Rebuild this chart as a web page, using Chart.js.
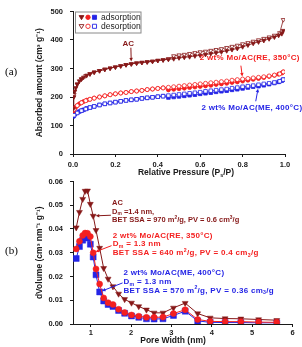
<!DOCTYPE html>
<html>
<head>
<meta charset="utf-8">
<script src="https://cdn.jsdelivr.net/npm/chart.js@4.4.1/dist/chart.umd.min.js"></script>
<style>
body { margin: 0; background: #fff; width: 302px; height: 347px; overflow: hidden; position: relative; }
.box { position: absolute; left: 0; width: 302px; }
#boxA { top: 0; height: 178px; }
#boxB { top: 170px; height: 177px; }
.tag { position: absolute; left: 5px; font-family: "Liberation Serif", "Times New Roman", serif; font-size: 11px; font-weight: normal; color: #000; z-index: 2; }
</style>
</head>
<body>
<div id="boxA" class="box"><canvas id="isoChart"></canvas></div>
<div id="boxB" class="box"><canvas id="poreChart"></canvas></div>
<div class="tag" style="top:65px">(a)</div>
<div class="tag" style="top:244px">(b)</div>
<script>
// (a) N2 isotherms, relative pressure
const pAds = [0.001, 0.004, 0.008, 0.013, 0.02, 0.03, 0.04, 0.05, 0.065, 0.08, 0.1, 0.125, 0.15, 0.175, 0.2, 0.225,
    0.25, 0.275, 0.3, 0.325, 0.35, 0.375, 0.4, 0.425, 0.45, 0.475, 0.5, 0.525, 0.55, 0.575, 0.6, 0.625, 0.65, 0.675,
    0.7, 0.725, 0.75, 0.775, 0.8, 0.825, 0.85, 0.875, 0.9, 0.925, 0.95, 0.97, 0.985, 0.992];
const pDes = [0.992, 0.975, 0.95, 0.925, 0.9, 0.875, 0.85, 0.825, 0.8, 0.775, 0.75, 0.725, 0.7, 0.675, 0.65, 0.625,
    0.6, 0.575, 0.55, 0.525, 0.5, 0.475, 0.45, 0.425, 0.4, 0.375, 0.35, 0.325, 0.3, 0.275, 0.25, 0.225, 0.2, 0.175,
    0.15, 0.125, 0.1, 0.08, 0.06, 0.04, 0.02, 0.005];

const acAds = [158, 200, 220, 232, 245, 256, 263, 269, 276, 281, 287, 292, 297, 301, 305, 309, 313, 316, 319, 321,
    323, 325, 328, 330, 332, 334, 337, 339, 341, 344, 346, 349, 352, 355, 358, 362, 366, 370, 376, 382, 388, 393,
    398, 404, 410, 416, 422, 433];
const acDes = [471, 425, 416, 410, 405, 400, 395, 390, 386, 381, 377, 373, 369, 366, 363, 360, 358, 355, 352, 349,
    347, 344, 334, 330, 328, 325, 323, 321, 319, 316, 313, 309, 305, 301, 297, 292, 287, 281, 274, 263, 245, 208];
const reAds = [148, 154, 160, 165, 170, 176, 180, 184, 189, 192, 196, 200, 204, 208, 211, 214, 216, 219, 221, 223,
    226, 228, 230, 232, 225, 227, 229, 231, 233, 235, 237, 239, 241, 244, 246, 248, 251, 253, 256, 259, 262, 265,
    268, 272, 276, 280, 284, 288];
const reDes = [288, 281, 277, 274, 271, 269, 267, 265, 263, 261, 259, 256, 254, 252, 250, 248, 246, 244, 242, 240,
    238, 236, 234, 232, 230, 228, 226, 223, 221, 219, 216, 214, 211, 208, 204, 200, 196, 192, 187, 180, 170, 156];
const meAds = [132, 135, 140, 143, 145, 149, 152, 155, 160, 163, 167, 172, 176, 179, 182, 185, 188, 190, 192, 195,
    197, 199, 201, 203, 198, 200, 202, 204, 206, 208, 211, 213, 215, 218, 220, 222, 225, 227, 230, 233, 236, 238,
    241, 245, 249, 253, 257, 261];
const meDes = [261, 255, 251, 248, 246, 243, 240, 238, 236, 233, 231, 228, 226, 224, 222, 220, 217, 215, 213, 211,
    209, 207, 205, 203, 201, 199, 197, 195, 192, 190, 188, 185, 182, 179, 176, 172, 167, 163, 158, 152, 144, 136];

const isoTicksX = [0, 0.2, 0.4, 0.6, 0.8, 1.0];
const isoTicksY = [0, 100, 200, 300, 400, 500];

// (b) pore size distribution
const poreWidth = [0.64, 0.72, 0.80, 0.86, 0.92, 0.99, 1.06, 1.13, 1.22, 1.32, 1.43, 1.55, 1.69, 1.84, 2.01, 2.19,
    2.38, 2.57, 2.79, 3.05, 3.34, 3.65, 3.96, 4.33, 4.72, 5.16, 5.61];
const acPsd = [0.0406, 0.0471, 0.0526, 0.0560, 0.0561, 0.0505, 0.0455, 0.0395, 0.0320, 0.0235, 0.0190, 0.0158,
    0.0127, 0.0104, 0.0089, 0.0074, 0.0060, 0.0047, 0.0047, 0.0068, 0.0088, 0.0044, 0.0026, 0.0023, 0.0022, 0.0019, 0.0016];
const rePsd = [0.0316, 0.0348, 0.0373, 0.0383, 0.0382, 0.0368, 0.0300, 0.0232, 0.0168, 0.0110, 0.0090, 0.0082,
    0.0062, 0.0048, 0.0038, 0.0033, 0.0028, 0.0028, 0.0029, 0.0044, 0.0060, 0.0019, 0.0011, 0.0010, 0.0010, 0.0008, 0.0007];
const mePsd = [0.0276, 0.0326, 0.0353, 0.0366, 0.0362, 0.0336, 0.0282, 0.0207, 0.0135, 0.0097, 0.0082, 0.0074,
    0.0057, 0.0045, 0.0034, 0.0028, 0.0022, 0.0021, 0.0022, 0.0036, 0.0054, 0.0013, 0.0007, 0.0006, 0.0006, 0.0005, 0.0005];

const psdTicksX = [1, 2, 3, 4, 5, 6];
const psdTicksY = [0, 0.01, 0.02, 0.03, 0.04, 0.05, 0.06];

const ink = '#1a1a1a';
const acCol = '#861818';
const reCol = '#f42020';
const meCol = '#2424e6';
const sans = '"Liberation Sans", Arial, sans-serif';
const tickFont = { family: sans, size: 7.5, weight: 'bold' };
const titleFont = { family: sans, size: 8.5, weight: 'bold' };

Chart.defaults.font.family = sans;

function series(xs, ys) {
    return xs.map((x, i) => ({ x: x, y: ys[i] }));
}

// segs: [text, shift], shift 1 = superscript, -1 = subscript
function rich(ctx, segs, x, y, size, color, align) {
    const big = 'bold ' + size + 'px ' + sans;
    const small = 'bold ' + (size * 0.65).toFixed(1) + 'px ' + sans;
    let w = 0;
    segs.forEach(([t, s]) => { ctx.font = s ? small : big; w += ctx.measureText(t).width; });
    let cx = align === 'center' ? x - w / 2 : x;
    ctx.fillStyle = color;
    ctx.textAlign = 'left';
    ctx.textBaseline = 'middle';
    segs.forEach(([t, s]) => {
        ctx.font = s ? small : big;
        const dy = s === 1 ? -size * 0.35 : (s === -1 ? size * 0.3 : 0);
        ctx.fillText(t, cx, y + dy);
        cx += ctx.measureText(t).width;
    });
}

function arrow(ctx, x0, y0, x1, y1, color) {
    const a = Math.atan2(y1 - y0, x1 - x0);
    // stop just short of the marker
    x1 -= 2.5 * Math.cos(a);
    y1 -= 2.5 * Math.sin(a);
    const h = 4;
    ctx.strokeStyle = color;
    ctx.fillStyle = color;
    ctx.lineWidth = 1;
    ctx.beginPath();
    ctx.moveTo(x0, y0);
    ctx.lineTo(x1 - h * 0.8 * Math.cos(a), y1 - h * 0.8 * Math.sin(a));
    ctx.stroke();
    ctx.beginPath();
    ctx.moveTo(x1, y1);
    ctx.lineTo(x1 - h * Math.cos(a - 0.45), y1 - h * Math.sin(a - 0.45));
    ctx.lineTo(x1 - h * Math.cos(a + 0.45), y1 - h * Math.sin(a + 0.45));
    ctx.closePath();
    ctx.fill();
}

function mark(ctx, shape, x, y, r, col, filled) {
    ctx.beginPath();
    if (shape === 'tri') {
        ctx.moveTo(x - r, y - r * 0.7);
        ctx.lineTo(x + r, y - r * 0.7);
        ctx.lineTo(x, y + r);
        ctx.closePath();
    } else if (shape === 'circle') {
        ctx.arc(x, y, r, 0, Math.PI * 2);
    } else {
        ctx.rect(x - r * 0.85, y - r * 0.85, r * 1.7, r * 1.7);
    }
    ctx.fillStyle = filled ? col : '#fff';
    ctx.fill();
    ctx.strokeStyle = col;
    ctx.lineWidth = 0.9;
    ctx.stroke();
}

function notesPlugin(notes, arrows, extra) {
    return {
        id: 'notes',
        afterDatasetsDraw(chart) {
            const { ctx, scales: { x, y } } = chart;
            ctx.save();
            arrows.forEach(a => arrow(ctx,
                x.getPixelForValue(a.from[0]), y.getPixelForValue(a.from[1]),
                x.getPixelForValue(a.to[0]), y.getPixelForValue(a.to[1]), a.color));
            notes.forEach(n => {
                ctx.letterSpacing = (n.spacing || 0) + 'px';
                n.lines.forEach((segs, i) => rich(ctx, segs,
                    x.getPixelForValue(n.at[0]), y.getPixelForValue(n.at[1]) + i * 8.8,
                    n.size, n.color, n.align));
            });
            ctx.letterSpacing = '0px';
            if (extra) extra(chart, ctx);
            ctx.restore();
        }
    };
}

const isoNotes = [
    { lines: [[['AC']]], at: [0.261, 387], color: acCol, size: 8, align: 'center' },
    { lines: [[['2 wt% Mo/AC(RE, 350°C)']]], at: [0.598, 338], color: reCol, size: 8, spacing: 0.3 },
    { lines: [[['2 wt% Mo/AC(ME, 400°C)']]], at: [0.606, 161], color: meCol, size: 8, spacing: 0.3 },
];
const isoArrows = [
    { from: [0.273, 373], to: [pAds[17], acAds[17]], color: acCol },
    { from: [0.792, 310], to: [pDes[8], reDes[8]], color: reCol },
    { from: [0.862, 185], to: [pAds[41], meAds[41]], color: meCol },
];

const psdNotes = [
    { lines: [[['AC']], [['D'], ['m', -1], [' =1.4 nm,']],
        [['BET SSA = 970 m'], ['2', 1], ['/g, PV = 0.6 cm'], ['3', 1], ['/g']]],
      at: [1.529, 0.0511], color: acCol, size: 7.5 },
    { lines: [[['2 wt% Mo/AC(RE, 350°C)']], [['D'], ['m', -1], [' = 1.3 nm']],
        [['BET SSA = 640 m'], ['2', 1], ['/g, PV = 0.4 cm'], ['3', -1], ['/g']]],
      at: [1.546, 0.0373], color: reCol, size: 8, spacing: 0.3 },
    { lines: [[['2 wt% Mo/AC(ME, 400°C)']], [['D'], ['m', -1], [' = 1.3 nm']],
        [['BET SSA = 570 m'], ['2', 1], ['/g, PV = 0.36 cm'], ['3', -1], ['/g']]],
      at: [1.81, 0.0215], color: meCol, size: 8, spacing: 0.3 },
];
const psdArrows = [
    { from: [1.50, 0.0458], to: [poreWidth[6], acPsd[6]], color: acCol },
    { from: [1.516, 0.0330], to: [poreWidth[6], rePsd[6]], color: reCol },
    { from: [1.789, 0.0173], to: [poreWidth[8], mePsd[8]], color: meCol },
];

function isoLegend(chart, ctx) {
    const a = chart.chartArea;
    ctx.fillStyle = '#fff';
    ctx.fillRect(a.left + 2.5, a.top + 0.5, 65.5, 21);
    ctx.strokeStyle = '#8a8a8a';
    ctx.lineWidth = 1;
    ctx.strokeRect(a.left + 2.5, a.top + 0.5, 65.5, 21);
    [true, false].forEach((filled, i) => {
        const yy = a.top + 5.8 + i * 9;
        mark(ctx, 'tri', a.left + 8.5, yy, 2.4, acCol, filled);
        mark(ctx, 'circle', a.left + 15, yy, 2.2, reCol, filled);
        mark(ctx, 'rect', a.left + 21.5, yy, 2.4, meCol, filled);
        ctx.fillStyle = ink;
        ctx.font = '8.5px ' + sans;
        ctx.textAlign = 'left';
        ctx.textBaseline = 'middle';
        ctx.fillText(filled ? 'adsorption' : 'desorption', a.left + 28, yy);
    });
    rich(ctx, [['Relative Pressure (P'], ['s', -1], ['/P)']], a.left + 113, a.bottom + 19, 8.5, ink, 'center');
}

function psdTitle(chart, ctx) {
    const a = chart.chartArea;
    rich(ctx, [['Pore Width (nm)']], a.left + 100, a.bottom + 17, 8.5, ink, 'center');
}

function isoSet(xs, ys, col, style, open, r) {
    return {
        data: series(xs, ys),
        showLine: true,
        borderColor: col,
        borderWidth: 0.8,
        pointStyle: style,
        pointRotation: style === 'triangle' ? 180 : 0,
        pointRadius: r,
        pointBackgroundColor: open ? '#fff' : col,
        pointBorderColor: col,
        pointBorderWidth: 0.8,
    };
}

function psdSet(ys, col, style, r) {
    return {
        data: series(poreWidth, ys),
        showLine: true,
        borderColor: col,
        borderWidth: 1,
        pointStyle: style,
        pointRotation: style === 'triangle' ? 180 : 0,
        pointRadius: r,
        pointBackgroundColor: col,
        pointBorderColor: col,
        pointBorderWidth: 0.5,
    };
}

function axis(min, max, list, fmt, size, pad, title) {
    return {
        type: 'linear',
        min: min,
        max: max,
        afterBuildTicks: s => { s.ticks = list.map(v => ({ value: v })); },
        afterFit: s => { if (s.isHorizontal()) { s.height = size; } else { s.width = size; } },
        ticks: { callback: v => v.toFixed(fmt), font: tickFont, color: ink, padding: pad, maxRotation: 0, autoSkip: false },
        grid: { drawOnChartArea: false, tickLength: 3, color: ink },
        border: { color: ink, width: 1 },
        title: title ? { display: true, text: title, font: titleFont, color: ink, padding: { top: 4, bottom: 0 } } : { display: false },
    };
}

const isoConfig = {
    type: 'scatter',
    data: {
        datasets: [
            isoSet(pAds, acAds, acCol, 'triangle', false, 2.4),
            isoSet(pDes, reDes, reCol, 'circle', true, 2),
            isoSet(pDes, meDes, meCol, 'rect', true, 2.5),
            isoSet(pDes, acDes, acCol, 'triangle', true, 2.4),
            isoSet(pAds, reAds, reCol, 'circle', false, 2),
            isoSet(pAds, meAds, meCol, 'rect', false, 2.5),
        ]
    },
    options: {
        responsive: true,
        maintainAspectRatio: false,
        animation: false,
        events: [],
        layout: { padding: { left: 31, right: 17, top: 10, bottom: 0 } },
        plugins: { legend: { display: false }, tooltip: { enabled: false } },
        scales: {
            x: axis(0, 1, isoTicksX, 1, 24, 3),
            y: axis(0, 500, isoTicksY, 0, 42, 7, 'Absorbed amount (cm³ g⁻¹)'),
        },
    },
    plugins: [notesPlugin(isoNotes, isoArrows, isoLegend)],
};

const psdConfig = {
    type: 'scatter',
    data: {
        datasets: [
            psdSet(rePsd, reCol, 'circle', 3),
            psdSet(acPsd, acCol, 'triangle', 3.4),
            psdSet(mePsd, meCol, 'rect', 4.2),
        ]
    },
    options: {
        responsive: true,
        maintainAspectRatio: false,
        animation: false,
        events: [],
        layout: { padding: { left: 31, right: 9.5, top: 8, bottom: 0 } },
        plugins: { legend: { display: false }, tooltip: { enabled: false } },
        scales: {
            x: axis(0.56, 6, psdTicksX, 0, 23, 1),
            y: axis(0, 0.06, psdTicksY, 2, 42, 7, 'dVolume (cm³ nm⁻¹ g⁻¹)'),
        },
    },
    plugins: [notesPlugin(psdNotes, psdArrows, psdTitle)],
};

const isoChart = new Chart(document.getElementById('isoChart'), isoConfig);
const poreChart = new Chart(document.getElementById('poreChart'), psdConfig);
</script>
</body>
</html>
